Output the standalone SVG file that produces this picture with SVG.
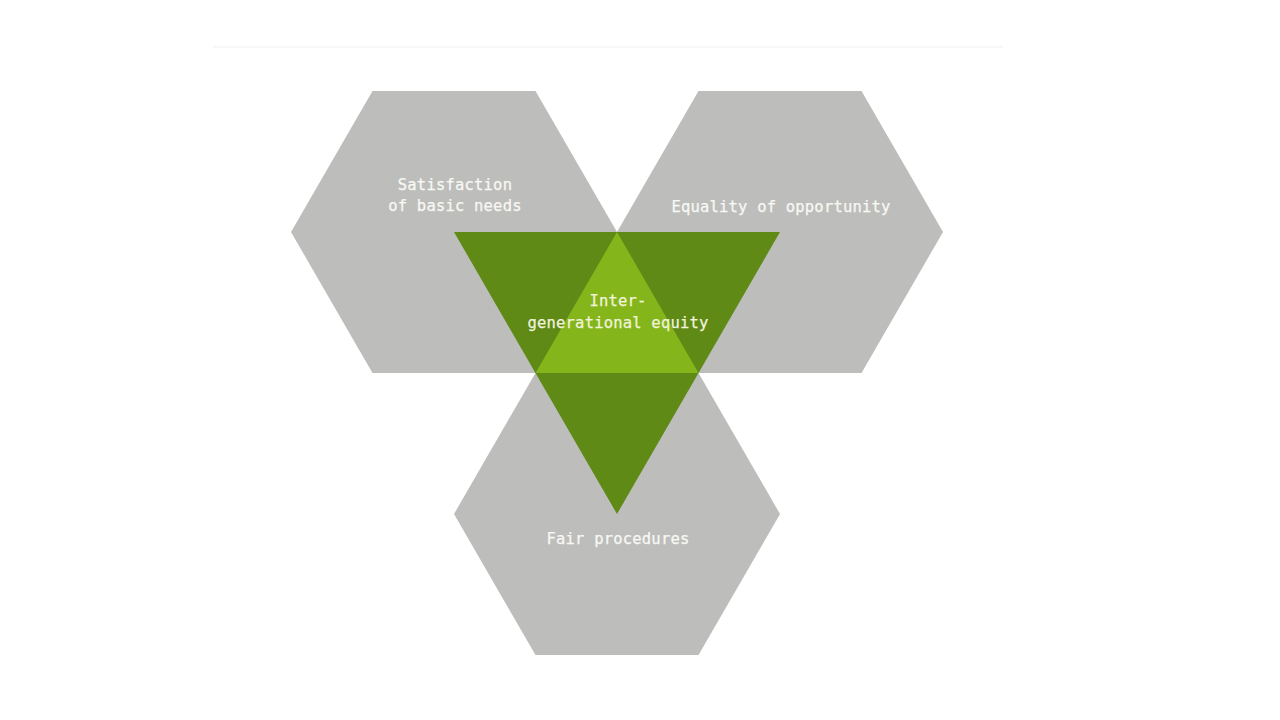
<svg xmlns="http://www.w3.org/2000/svg" width="1280" height="720" viewBox="0 0 1280 720">
<style>
.hex{fill:#bdbebc}
.dark{fill:#5e8a15}
.light{fill:#84b61b}
.lbl{font-family:"DejaVu Sans Mono","Liberation Mono",monospace;font-size:15.5px;letter-spacing:0.2px;fill:#f8f8f4;text-anchor:middle;stroke:#f8f8f4;stroke-width:0.25px}
.lblg{fill:#f2f3dc;stroke:#f2f3dc}
</style>
<rect width="1280" height="720" fill="#ffffff"/>
<line x1="213" y1="47" x2="1003" y2="47" stroke="#f4f4f4" stroke-width="1.5"/>
<g id="connectors"></g>
<g id="node-basic-needs">
<polygon class="hex" points="291,232 372.5,91 535.5,91 617,232 535.5,373 372.5,373"/>
</g>
<g id="node-equality">
<polygon class="hex" points="617,232 698.5,91 861.5,91 943,232 861.5,373 698.5,373"/>
</g>
<g id="node-fair-procedures">
<polygon class="hex" points="454,514 535.5,373 698.5,373 780,514 698.5,655 535.5,655"/>
</g>
<g id="node-intergenerational">
<polygon class="dark" points="454,232 780,232 617,514"/>
<polygon class="light" points="617,232 535.5,373 698.5,373"/>
</g>
<g id="labels">
<text class="lbl" x="455" y="190">Satisfaction</text>
<text class="lbl" x="455" y="211">of basic needs</text>
<text class="lbl" x="781" y="212">Equality of opportunity</text>
<text class="lbl lblg" x="618" y="306">Inter-</text>
<text class="lbl lblg" x="618" y="328">generational equity</text>
<text class="lbl" x="618" y="544">Fair procedures</text>
</g>
</svg>
